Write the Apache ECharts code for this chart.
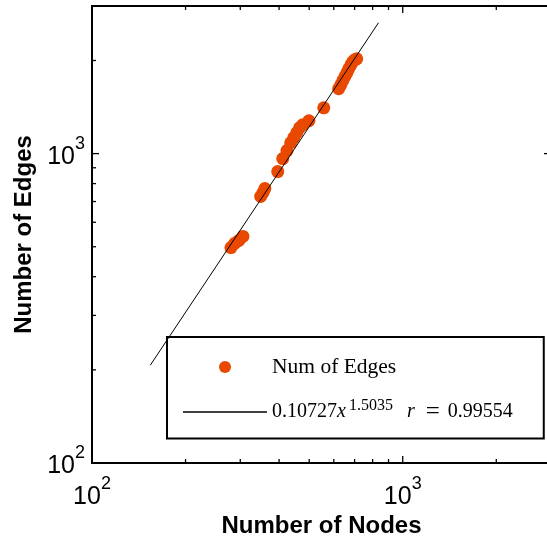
<!DOCTYPE html>
<html>
<head>
<meta charset="utf-8">
<script src="https://cdn.jsdelivr.net/npm/echarts@6/dist/echarts.min.js"></script>
<style>html,body{margin:0;padding:0;background:#fff}#c{width:547px;height:540px}</style>
</head>
<body>
<div id="c"></div>
<script>
var nodes = [280,288,297,306,349,355,360,396,411,424,436,446,456,466,477,499,557,622,632,641,651,661,670,681,690,701,711];
var edges = [497,513,524,540,727,748,771,875,964,1023,1084,1126,1169,1213,1240,1277,1406,1621,1669,1720,1772,1824,1879,1936,1981,2011,2025];
var fitX = [154, 836];
var fitY = [207, 2650];
var fitCoef = '0.10727';
var fitExp = '1.5035';
var fitR = '0.99554';
var axisMin = 100, axisMax = 3000;
var majorTicks = [100, 1000];
var minorTicks = [200, 300, 400, 500, 600, 700, 800, 900, 2000, 3000];

var SANS = 'Liberation Sans, Arial, Helvetica, sans-serif';
var SERIF = 'Liberation Serif, Times New Roman, serif';
var ORANGE = '#e84800';

var scatterData = nodes.map(function(n, i){ return [n, edges[i]]; });
var fitData = fitX.map(function(x, i){ return [x, fitY[i]]; });
var tickData = majorTicks.map(function(v){ return [v, v, 1]; })
  .concat(minorTicks.map(function(v){ return [v, v, 0]; }));

function powLabel(v){
  var l = Math.log10(v), e = Math.round(l);
  if (Math.abs(l - e) > 1e-6) return '';
  return '{b|10}{s|' + e + '}';
}
var xRich = {
  b: {fontSize: 25, fontFamily: SANS, color: '#000'},
  s: {fontSize: 18, fontFamily: SANS, color: '#000', padding: [0, 0, 26, 0]}
};
var yRich = {
  b: {fontSize: 25, fontFamily: SANS, color: '#000', padding: [7, 0, 0, 0]},
  s: {fontSize: 18, fontFamily: SANS, color: '#000', padding: [0, 0, 20, 0]}
};

var chart = echarts.init(document.getElementById('c'), null, {renderer: 'canvas'});
chart.setOption({
  animation: false,
  backgroundColor: '#fff',
  grid: {left: 92, top: 6, width: 459, height: 457, show: true, borderColor: '#000', borderWidth: 2, backgroundColor: 'transparent', containLabel: false, outerBoundsMode: 'none'},
  xAxis: {
    type: 'log', logBase: 10, min: axisMin, max: axisMax,
    name: 'Number of Nodes', nameLocation: 'middle', nameGap: 49,
    nameTextStyle: {fontFamily: SANS, fontWeight: 'bold', fontSize: 24, color: '#000'},
    axisLine: {show: false}, axisTick: {show: false}, splitLine: {show: false}, minorTick: {show: false},
    axisLabel: {formatter: powLabel, rich: xRich, margin: 12, showMinLabel: true, showMaxLabel: true, hideOverlap: false}
  },
  yAxis: {
    type: 'log', logBase: 10, min: axisMin, max: axisMax,
    name: 'Number of Edges', nameLocation: 'middle', nameGap: 54,
    nameTextStyle: {fontFamily: SANS, fontWeight: 'bold', fontSize: 24, color: '#000'},
    axisLine: {show: false}, axisTick: {show: false}, splitLine: {show: false}, minorTick: {show: false},
    axisLabel: {formatter: powLabel, rich: yRich, margin: 7, showMinLabel: true, showMaxLabel: true, hideOverlap: false}
  },
  legend: {
    orient: 'vertical', left: 167, top: 337,
    padding: [19, 31, 14, 16], itemGap: 20, itemWidth: 84, itemHeight: 12,
    borderColor: '#000', borderWidth: 2, backgroundColor: '#fff',
    data: [
      {name: 'Num of Edges', icon: 'circle'},
      {name: 'fit', icon: 'path://M0,0L79,0L79,1.4L0,1.4Z'}
    ],
    textStyle: {fontFamily: SERIF, fontSize: 20, color: '#000',
      rich: {
        n: {fontFamily: SERIF, fontSize: 21.5, color: '#000'},
        a: {fontFamily: SERIF, fontSize: 20, color: '#000'},
        e: {fontFamily: SERIF, fontSize: 25, color: '#000'},
        x: {fontFamily: SERIF, fontSize: 20, fontStyle: 'italic', color: '#000', padding: [0, 3, 0, 0]},
        s: {fontFamily: SERIF, fontSize: 16, color: '#000', padding: [0, 0, 12, 0]},
        g: {fontFamily: SERIF, fontSize: 20, color: '#000', width: 14},
        h: {fontFamily: SERIF, fontSize: 20, color: '#000', width: 8}
      }},
    formatter: function(name){
      if (name === 'fit') return '{a|' + fitCoef + '}{x|x}{s|' + fitExp + '}{g|}{x|r}{h|}{e|=}{h|}{a|' + fitR + '}';
      return '{n|' + name + '}';
    }
  },
  series: [
    {
      type: 'custom', name: 'ticks', coordinateSystem: 'cartesian2d', silent: true, clip: false, z: 5,
      encode: {x: 0, y: 1},
      data: tickData,
      renderItem: function(params, api){
        var v = api.value(0), major = api.value(2);
        var len = major ? 7 : 4;
        var b = api.coord([v, axisMin]), t = api.coord([v, axisMax]);
        var l = api.coord([axisMin, v]), r = api.coord([axisMax, v]);
        var st = {stroke: '#000', lineWidth: 1.3};
        return {type: 'group', children: [
          {type: 'line', shape: {x1: b[0], y1: b[1], x2: b[0], y2: b[1] - len}, style: st},
          {type: 'line', shape: {x1: t[0], y1: t[1], x2: t[0], y2: t[1] + len}, style: st},
          {type: 'line', shape: {x1: l[0], y1: l[1], x2: l[0] + len, y2: l[1]}, style: st},
          {type: 'line', shape: {x1: r[0], y1: r[1], x2: r[0] - len, y2: r[1]}, style: st}
        ]};
      }
    },
    {
      type: 'scatter', name: 'Num of Edges', data: scatterData,
      symbol: 'circle', symbolSize: 13, itemStyle: {color: ORANGE, opacity: 1}, z: 3
    },
    {
      type: 'line', name: 'fit', data: fitData, showSymbol: false, symbol: 'none',
      lineStyle: {color: '#000', width: 1}, itemStyle: {color: '#000'}, z: 4
    }
  ]
});
</script>
</body>
</html>
